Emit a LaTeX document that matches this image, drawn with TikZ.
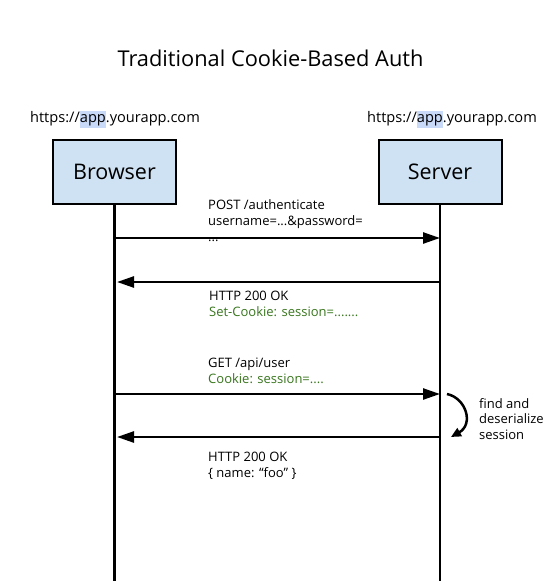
\documentclass[tikz,border=0pt]{standalone}
\usepackage{fontspec}
\setmainfont{Open Sans}
\usetikzlibrary{arrows.meta}
\definecolor{boxfill}{HTML}{CFE2F3}
\definecolor{hl}{HTML}{C9DAF8}
\definecolor{grn}{HTML}{38761D}
\tikzset{
  actor/.style={draw=black, line width=2pt, fill=boxfill, minimum width=123pt, minimum height=64pt, inner sep=0pt, font=\fontsize{21.5}{24}\selectfont},
  url/.style={font=\fontsize{14.6}{17}\selectfont, inner sep=0pt},
  life/.style={line width=2.5pt},
  msg/.style={line width=2.5pt, -{Triangle[length=17pt,width=11pt]}},
  lbl/.style={anchor=base west, align=left, inner sep=0pt, font=\fontsize{13}{16}\selectfont},
  side/.style={anchor=base west, align=left, inner sep=0pt, font=\fontsize{13}{15.5}\selectfont},
}
\begin{document}
\begin{tikzpicture}[x=1pt,y=-1pt]
\useasboundingbox[fill=white] (0,0) rectangle (556,581);
\node (title) at (270.5,58) {\fontsize{21.8}{26}\selectfont Traditional Cookie-Based Auth};
\node[url] (urlb) at (115,119) {\setlength\fboxsep{0pt}https://\colorbox{hl}{\strut app}.yourapp.com};
\node[url] (urls) at (452,119) {\setlength\fboxsep{0pt}https://\colorbox{hl}{\strut app}.yourapp.com};
\node[actor] (browser) at (114.5,172) {Browser};
\node[actor] (server) at (440,172) {Server};
\coordinate (bend) at (114.5,581);
\coordinate (send) at (440,581);
\draw[life] (browser.south) -- (bend);
\draw[life] (server.south) -- (send);
\node[lbl] (l1) at (208,241) {POST /authenticate\\username=...\&password=\\...};
\node[lbl] (l2) at (209,316) {HTTP 200 OK\\\textcolor{grn}{Set-Cookie: session=.......}};
\node[lbl] (l3) at (208,383) {GET /api/user\\\textcolor{grn}{Cookie: session=....}};
\node[lbl] (l4) at (208,477) {HTTP 200 OK\\\{ name: “foo” \}};
% message coordinates
\coordinate (b1) at (114.5,238); \coordinate (s1) at (440,238);
\coordinate (b2) at (117,282);   \coordinate (s2) at (440,282);
\coordinate (b3) at (114.5,394); \coordinate (s3) at (440,394);
\coordinate (b4) at (117,437);   \coordinate (s4) at (440,437);
\draw[msg] (b1) -- (s1);
\draw[msg] (s2) -- (b2);
\draw[msg] (b3) -- (s3);
\draw[msg] (s4) -- (b4);
\coordinate (c1) at (447,394);
\coordinate (c2) at (451,437);
\draw[line width=2.5pt, -{Triangle[length=10pt,width=9pt]}] (c1) .. controls (466,398) and (474,424) .. (c2);
\node[side] (l5) at (479,439) {find and\\deserialize\\session};
\end{tikzpicture}
\end{document}
